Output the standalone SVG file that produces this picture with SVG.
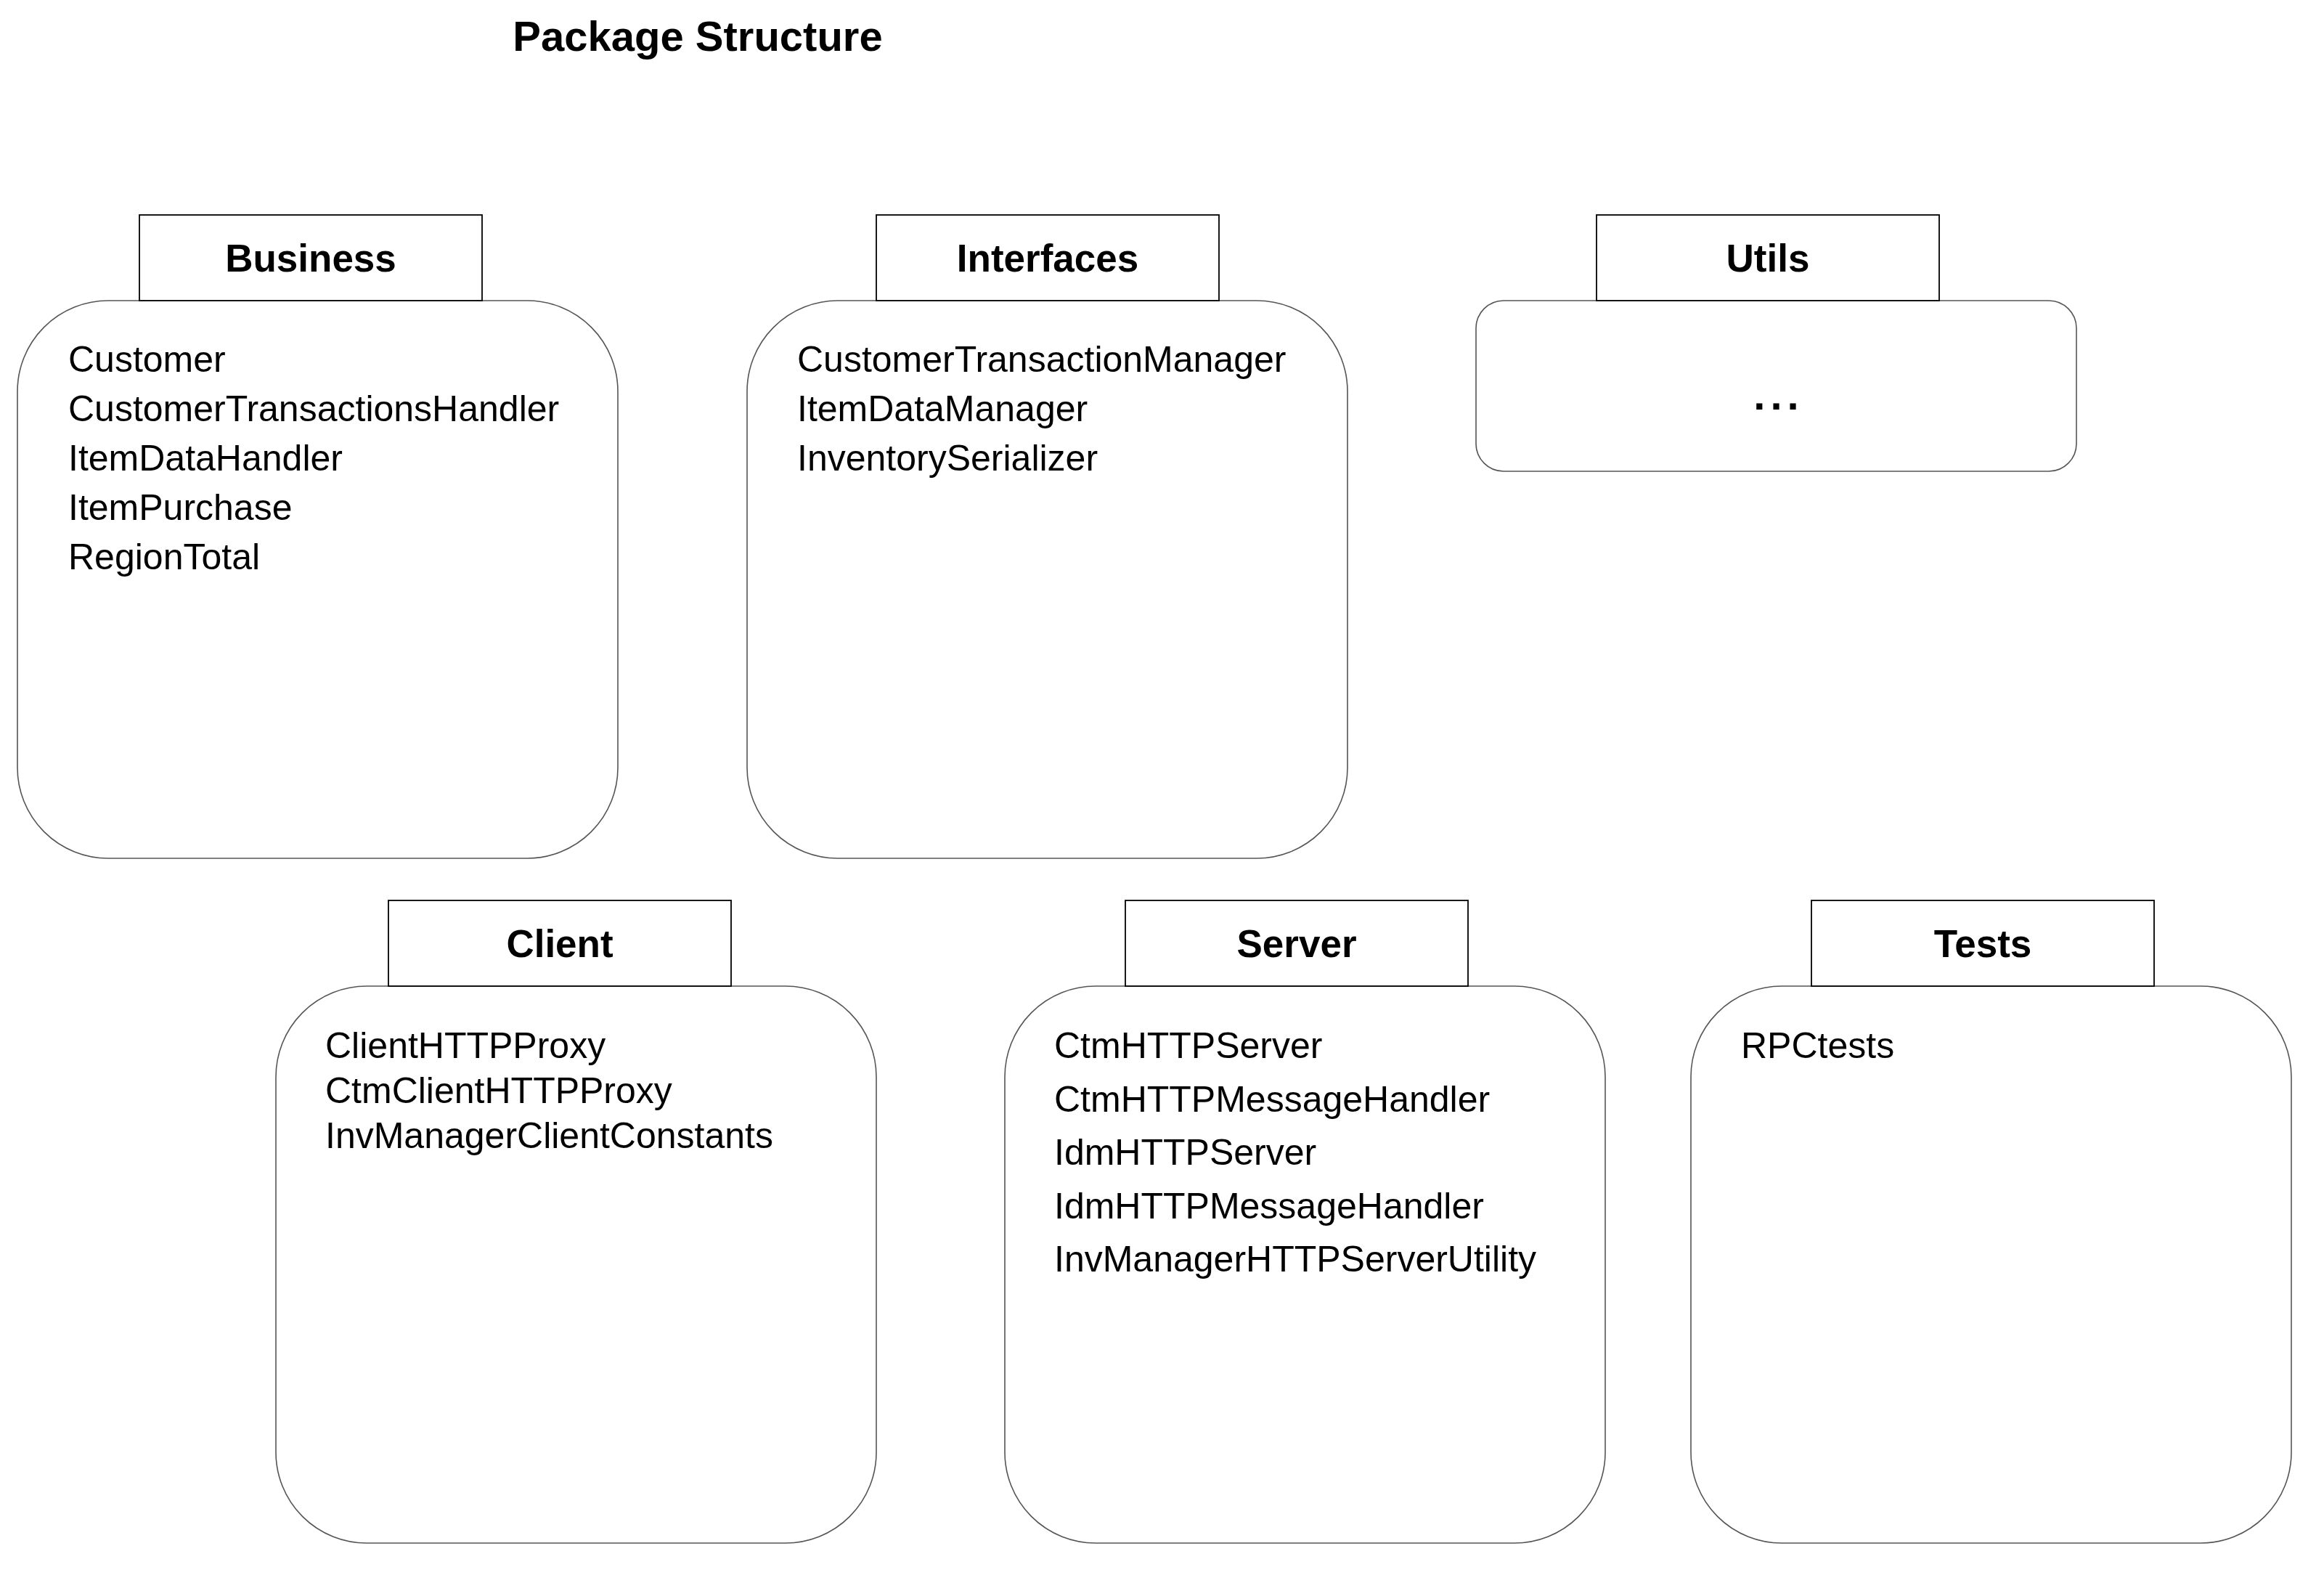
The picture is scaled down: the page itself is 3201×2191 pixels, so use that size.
<svg xmlns="http://www.w3.org/2000/svg" width="3201" height="2191" viewBox="0 0 3201 2191">
<style>
.body{fill:#fff;stroke:#555;stroke-width:1.6}
.tab{fill:#fff;stroke:#000;stroke-width:1.8}
.hdr{font-family:"Liberation Sans",Arial,sans-serif;font-weight:bold;font-size:53px;fill:#000;text-anchor:middle}
.item{font-family:"Liberation Sans",Arial,sans-serif;font-size:50px;fill:#000}
.title{font-family:"Liberation Sans",Arial,sans-serif;font-weight:bold;font-size:58px;fill:#000;text-anchor:middle}
</style>
<rect width="3201" height="2191" fill="#fff"/>
<text class="title" x="961" y="70">Package Structure</text>
<g id="connectors"/>
<g id="business">
<rect class="body" x="24" y="414" width="827" height="768" rx="125" ry="125"/>
<rect class="tab" x="192" y="296" width="472" height="118"/>
<text class="hdr" x="428" y="374">Business</text>
<text class="item" x="94" y="512">Customer</text>
<text class="item" x="94" y="580">CustomerTransactionsHandler</text>
<text class="item" x="94" y="648">ItemDataHandler</text>
<text class="item" x="94" y="716">ItemPurchase</text>
<text class="item" x="94" y="784">RegionTotal</text>
</g>
<g id="interfaces">
<rect class="body" x="1029" y="414" width="827" height="768" rx="125" ry="125"/>
<rect class="tab" x="1207" y="296" width="472" height="118"/>
<text class="hdr" x="1443" y="374">Interfaces</text>
<text class="item" x="1098" y="512">CustomerTransactionManager</text>
<text class="item" x="1098" y="580">ItemDataManager</text>
<text class="item" x="1098" y="648">InventorySerializer</text>
</g>
<g id="utils">
<rect class="body" x="2033" y="414" width="827" height="235" rx="38" ry="38"/>
<rect class="tab" x="2199" y="296" width="472" height="118"/>
<text class="hdr" x="2435" y="374">Utils</text>
<text class="hdr" x="2450" y="564" style="font-size:58px;letter-spacing:7px">...</text>
</g>
<g id="client">
<rect class="body" x="380" y="1358" width="827" height="767" rx="125" ry="125"/>
<rect class="tab" x="535" y="1240" width="472" height="118"/>
<text class="hdr" x="771" y="1318">Client</text>
<text class="item" x="448" y="1457">ClientHTTPProxy</text>
<text class="item" x="448" y="1519">CtmClientHTTPProxy</text>
<text class="item" x="448" y="1581">InvManagerClientConstants</text>
</g>
<g id="server">
<rect class="body" x="1384" y="1358" width="827" height="767" rx="125" ry="125"/>
<rect class="tab" x="1550" y="1240" width="472" height="118"/>
<text class="hdr" x="1786" y="1318">Server</text>
<text class="item" x="1452" y="1457">CtmHTTPServer</text>
<text class="item" x="1452" y="1531">CtmHTTPMessageHandler</text>
<text class="item" x="1452" y="1604">IdmHTTPServer</text>
<text class="item" x="1452" y="1678">IdmHTTPMessageHandler</text>
<text class="item" x="1452" y="1751">InvManagerHTTPServerUtility</text>
</g>
<g id="tests">
<rect class="body" x="2329" y="1358" width="827" height="767" rx="125" ry="125"/>
<rect class="tab" x="2495" y="1240" width="472" height="118"/>
<text class="hdr" x="2731" y="1318">Tests</text>
<text class="item" x="2398" y="1457">RPCtests</text>
</g>
</svg>
